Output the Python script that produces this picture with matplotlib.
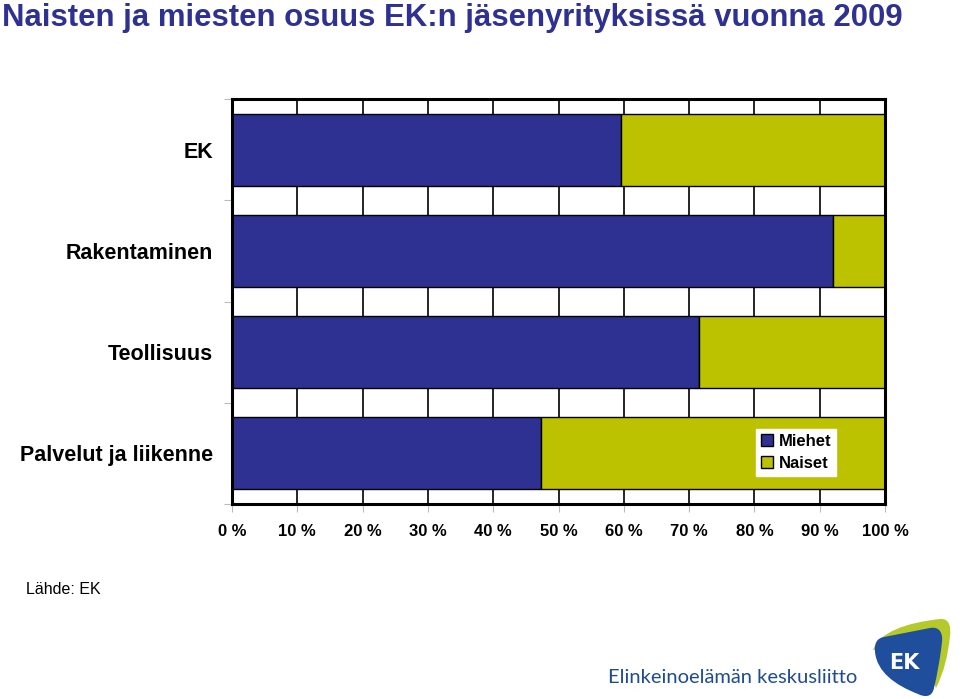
import matplotlib
matplotlib.use("Agg")
import matplotlib.pyplot as plt
from matplotlib.patches import PathPatch
from matplotlib.path import Path
import numpy as np

plt.rcParams['font.family'] = ['Liberation Sans', 'DejaVu Sans']

categories = ["EK", "Rakentaminen", "Teollisuus", "Palvelut ja liikenne"]
miehet = [59.6, 92.0, 71.5, 47.3]
naiset = [40.4, 8.0, 28.5, 52.7]
xticks = [0, 10, 20, 30, 40, 50, 60, 70, 80, 90, 100]
xticklabels = [f"{t} %" for t in xticks]

BLUE = "#2E3191"
GREEN = "#BCC200"

fig = plt.figure(figsize=(9.6, 6.99), dpi=100)
ax = fig.add_axes([232/960, 195/699, 653/960, 405/699])

y = np.arange(len(categories))
h = 0.71
ax.barh(y, miehet, height=h, color=BLUE, edgecolor="black", linewidth=1.0, label="Miehet", zorder=3)
ax.barh(y, naiset, left=miehet, height=h, color=GREEN, edgecolor="black", linewidth=1.0, label="Naiset", zorder=3)

ax.set_xlim(0, 100)
ax.set_ylim(3.5, -0.5)
ax.set_xticks(xticks)
ax.set_xticklabels(xticklabels, fontsize=12, fontweight="bold")
ax.set_yticks(y)
ax.set_yticklabels(categories, fontsize=15.5, fontweight="bold")
ax.set_yticks(np.arange(-0.5, 4.0, 1.0), minor=True)
ax.tick_params(axis="y", which="major", length=0, pad=13.7)
ax.tick_params(axis="y", which="minor", length=6, color="#BBBBBB", width=0.8)
ax.tick_params(axis="x", which="major", length=6, color="#BBBBBB", width=0.8, pad=8.5)
ax.xaxis.grid(True, color="black", linewidth=1.2, zorder=1)
ax.set_axisbelow(True)
for s in ax.spines.values():
    s.set_linewidth(2.2)
    s.set_color("black")
    s.set_zorder(5)

leg = ax.legend(loc="lower right", bbox_to_anchor=(0.925, 0.069), borderaxespad=0,
                frameon=True, fancybox=False, edgecolor="white", framealpha=1,
                prop={"size": 12, "weight": "bold"}, handlelength=0.75, handleheight=0.75,
                handletextpad=0.3, borderpad=0.3, labelspacing=0.45)

fig.text(0.002, 0.995, "Naisten ja miesten osuus EK:n jäsenyrityksissä vuonna 2009",
         fontsize=22.4, fontweight="bold", color=BLUE, ha="left", va="top")
fig.text(26/960, 1 - 589/699, "Lähde: EK", fontsize=11.5, ha="left", va="center")

# logo text
fig.text(608/960, 1 - 683/699, "Elinkeinoelämän keskusliitto", fontsize=14.5,
         color="#1F4C8F", ha="left", va="baseline", family=["Lato", "DejaVu Sans"])

# logo shape
lax = fig.add_axes([860/960, 0, 100/960, 84/699])
lax.set_xlim(860, 960)
lax.set_ylim(699, 615)
lax.axis("off")
M, L, C = Path.MOVETO, Path.LINETO, Path.CURVE4
gverts = [(873, 650), (880, 632), (905, 623), (940, 619),
          (950, 618), (951, 628), (950, 636),
          (948, 655), (944, 672), (936, 688),
          (925, 660), (910, 645), (873, 650)]
gcodes = [M, C, C, C, C, C, C, C, C, C, C, C, C]
lax.add_patch(PathPatch(Path(gverts, gcodes), facecolor="#B5C92B", edgecolor="none"))
bverts = [(884, 637), (930, 628),
          (940, 626), (943, 634), (942, 642),
          (940, 660), (937, 675), (934, 688),
          (932, 698), (924, 697), (918, 694),
          (895, 685), (877, 672), (875, 652),
          (874, 642), (878, 638), (884, 637)]
bcodes = [M, L, C, C, C, C, C, C, C, C, C, C, C, C, C, C, C]
lax.add_patch(PathPatch(Path(bverts, bcodes), facecolor="#1F4E9C", edgecolor="none"))
lax.text(904, 663, "EK", color="white", fontsize=15, fontweight="bold", ha="center", va="center",
         family=["DejaVu Sans"])

fig.savefig("out.png", dpi=100)
